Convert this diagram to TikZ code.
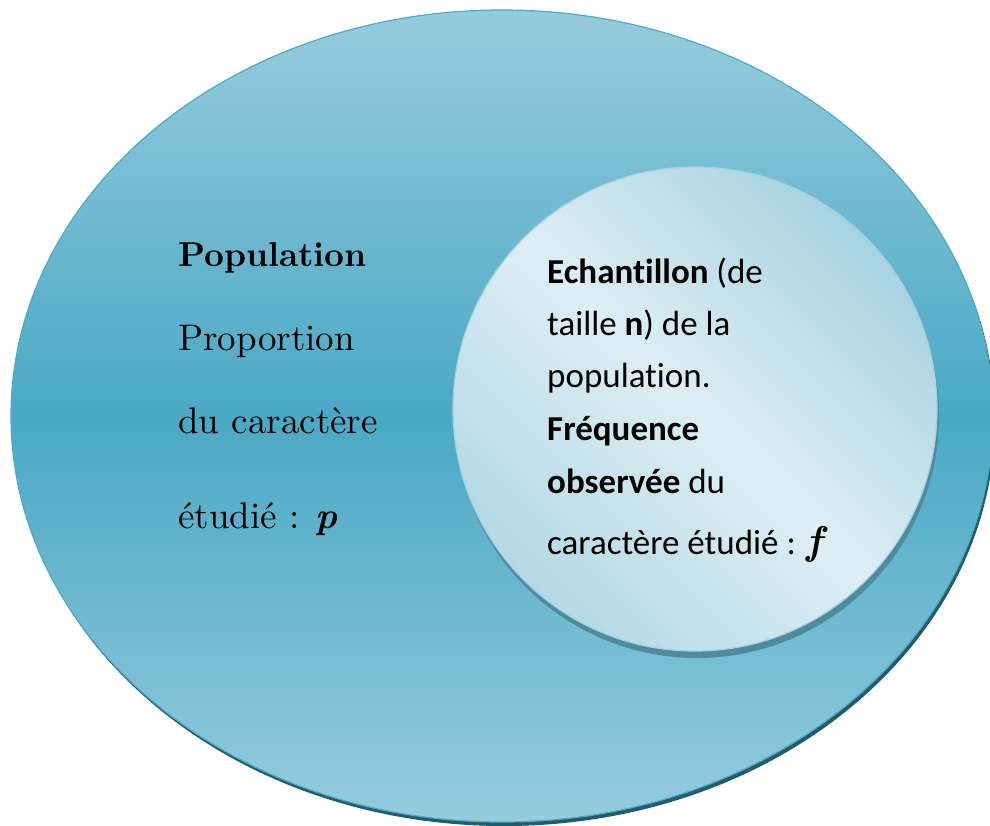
\documentclass[tikz,border=0pt]{standalone}
\usepackage{fontspec}
\newfontfamily\calibrifont{Carlito}[Ligatures=NoCommon]
\newfontfamily\popfont{lmroman10-regular.otf}[BoldFont=lmroman10-bold.otf, ItalicFont=lmroman10-italic.otf, BoldItalicFont=lmroman10-bolditalic.otf]
\definecolor{outlight}{HTML}{96CCDD}
\definecolor{outdark}{HTML}{4AA8C4}
\definecolor{outedge}{HTML}{4BACC6}
\definecolor{outshadow}{HTML}{245B6B}
\definecolor{inlight}{HTML}{DDEEF4}
\definecolor{intopright}{HTML}{A8D3E1}
\definecolor{inbotleft}{HTML}{B3D9E5}
\definecolor{inedge}{HTML}{A5D2E0}
\definecolor{inshadow}{HTML}{4F8B9C}
\begin{document}
\begin{tikzpicture}[x=1pt,y=-1pt,
  outtxt/.style={anchor=base west, inner sep=0pt, font=\popfont\fontsize{37}{42}\selectfont},
  intxt/.style={anchor=base west, inner sep=0pt, font=\calibrifont\fontsize{35}{40}\selectfont}]
\useasboundingbox (0,0) rectangle (990,825);
\clip (0,0) rectangle (990,825);
% outer ellipse (population)
\fill[outshadow] (504,420) ellipse [x radius=491, y radius=406];
\path[draw=outedge, line width=1.2pt, top color=outlight, bottom color=outlight, middle color=outdark]
  (502,416) ellipse [x radius=491, y radius=406];
% inner circle (echantillon)
\fill[inshadow] (697,416) circle [radius=242];
\path[draw=inedge, line width=1.2pt, shading=axis, top color=intopright, bottom color=inbotleft,
  middle color=inlight, shading angle=-45]
  (695,409) circle [radius=242];
% population text
\node[outtxt, font=\popfont\bfseries\fontsize{34.5}{40}\selectfont] (pop) at (178,266) {Population};
\node[outtxt] (prop) at (178,350) {Proportion};
\node[outtxt] (duc)  at (178,433) {du caractère};
\node[outtxt] (etu)  at (178,528) {étudié : \textbf{\textit{p}}};
% sample text
\node[intxt] (l1) at (547,283) {\textbf{Echantillon} (de};
\node[intxt] (l2) at (547,335) {taille \textbf{n}) de la};
\node[intxt] (l3) at (547,387) {population.};
\node[intxt] (l4) at (547,440) {\textbf{Fréquence}};
\node[intxt] (l5) at (547,493) {\textbf{observée} du};
\node[intxt] (l6) at (547,554) {caractère étudié : {\popfont\bfseries\itshape\fontsize{40}{40}\selectfont f}};
\end{tikzpicture}
\end{document}
